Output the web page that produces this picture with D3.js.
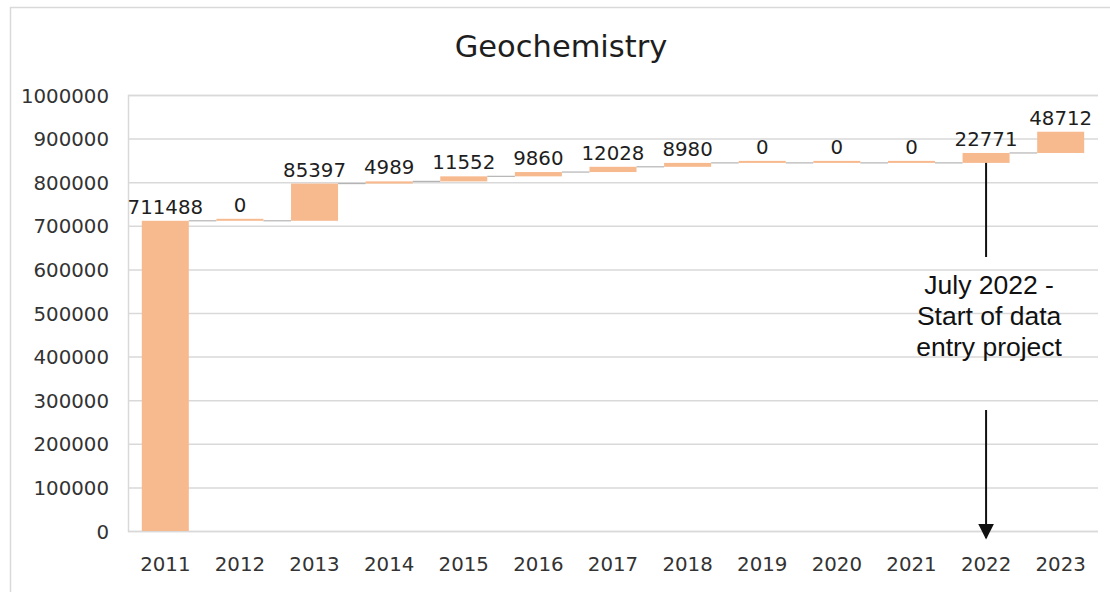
<!DOCTYPE html>
<html>
<head>
<meta charset="utf-8">
<script src="https://cdn.jsdelivr.net/npm/d3@7"></script>
<style>
  html, body { margin: 0; padding: 0; background: #fff; }
  svg { display: block; }
</style>
</head>
<body>
<svg id="chart" width="1110" height="592"></svg>
<script>
const years = ["2011","2012","2013","2014","2015","2016","2017","2018","2019","2020","2021","2022","2023"];
const increments = [711488, 0, 85397, 4989, 11552, 9860, 12028, 8980, 0, 0, 0, 22771, 48712];
const yTicks = [0, 100000, 200000, 300000, 400000, 500000, 600000, 700000, 800000, 900000, 1000000];
const title = "Geochemistry";
const annotationYear = "2022";
const annotationLines = ["July 2022 -", "Start of data", "entry project"];

const W = 1110, H = 592;
const margin = { left: 128, right: 12, top: 95, bottom: 61 };
const svg = d3.select("#chart");

const x = d3.scaleBand().domain(years).range([margin.left, W - margin.right]).paddingInner(0.37).paddingOuter(0.185);
const y = d3.scaleLinear().domain([0, 1000000]).range([H - margin.bottom, margin.top]);

const ends = Array.from(d3.cumsum(increments));
const data = years.map((yr, i) => ({ year: yr, inc: increments[i], start: ends[i] - increments[i], end: ends[i] }));

const fontNum = "'DejaVu Sans', sans-serif";
const numSize = 19.8;

// frame
svg.append("line").attr("x1", 10).attr("x2", W).attr("y1", 7.5).attr("y2", 7.5).attr("stroke", "#d9d9d9").attr("stroke-width", 1.5);
svg.append("line").attr("x1", 10.5).attr("x2", 10.5).attr("y1", 7).attr("y2", H).attr("stroke", "#d9d9d9").attr("stroke-width", 1.5);

// title
svg.append("text").attr("x", 561).attr("y", 57).attr("text-anchor", "middle")
  .attr("font-family", fontNum).attr("font-size", 30.5).attr("fill", "#1e1e1e").text(title);

// gridlines
const yAxis = d3.axisLeft(y).tickValues(yTicks).tickFormat(d3.format("d")).tickSize(-(W - margin.left - margin.right)).tickPadding(19);
const gy = svg.append("g").attr("transform", `translate(${margin.left},0)`).call(yAxis);
gy.select(".domain").attr("stroke", "#d9d9d9").attr("stroke-width", 1.5);
gy.selectAll(".tick line").attr("stroke", "#d9d9d9").attr("stroke-width", 1.5);
gy.selectAll(".tick text").attr("font-family", fontNum).attr("font-size", numSize).attr("fill", "#333").attr("dy", "0.36em");

// x axis labels
const xAxis = d3.axisBottom(x).tickSize(0).tickPadding(26);
const gx = svg.append("g").attr("transform", `translate(0,${y(0)})`).call(xAxis);
gx.select(".domain").remove();
gx.selectAll(".tick text").attr("font-family", fontNum).attr("font-size", numSize).attr("fill", "#333");

// connectors
svg.append("g").selectAll("line").data(data.slice(0, -1)).join("line")
  .attr("x1", d => x(d.year) + x.bandwidth())
  .attr("x2", (d, i) => x(data[i + 1].year))
  .attr("y1", d => y(d.end)).attr("y2", d => y(d.end))
  .attr("stroke", "#b4b4b4").attr("stroke-width", 1.2);

// bars
svg.append("g").selectAll("rect").data(data).join("rect")
  .attr("x", d => x(d.year))
  .attr("width", x.bandwidth())
  .attr("y", d => Math.min(y(d.end), y(d.start) - 2))
  .attr("height", d => Math.max(2, y(d.start) - y(d.end)))
  .attr("fill", "#f7b98e");

// value labels
svg.append("g").selectAll("text").data(data).join("text")
  .attr("x", d => x(d.year) + x.bandwidth() / 2)
  .attr("y", d => Math.min(y(d.end), y(d.start) - 2) - 7)
  .attr("text-anchor", "middle")
  .attr("font-family", fontNum).attr("font-size", numSize).attr("fill", "#1e1e1e")
  .text(d => d.inc);

// annotation
const ann = data.find(d => d.year === annotationYear);
const ax = x(ann.year) + x.bandwidth() / 2;
svg.append("defs").append("marker").attr("id", "arrow").attr("viewBox", "0 0 10 10")
  .attr("refX", 9).attr("refY", 5).attr("markerWidth", 16).attr("markerHeight", 16)
  .attr("markerUnits", "userSpaceOnUse").attr("orient", "auto")
  .append("path").attr("d", "M0,0 L10,5 L0,10 Z").attr("fill", "#111");
svg.append("line").attr("x1", ax).attr("x2", ax).attr("y1", y(ann.start)).attr("y2", 257)
  .attr("stroke", "#111").attr("stroke-width", 2);
svg.append("line").attr("x1", ax).attr("x2", ax).attr("y1", 410).attr("y2", 538)
  .attr("stroke", "#111").attr("stroke-width", 2).attr("marker-end", "url(#arrow)");
svg.append("g").selectAll("text").data(annotationLines).join("text")
  .attr("x", ax + 3).attr("y", (d, i) => 294 + i * 31)
  .attr("text-anchor", "middle")
  .attr("font-family", "'Liberation Sans', Arial, sans-serif").attr("font-size", 26.5).attr("fill", "#111")
  .text(d => d);
</script>
</body>
</html>
